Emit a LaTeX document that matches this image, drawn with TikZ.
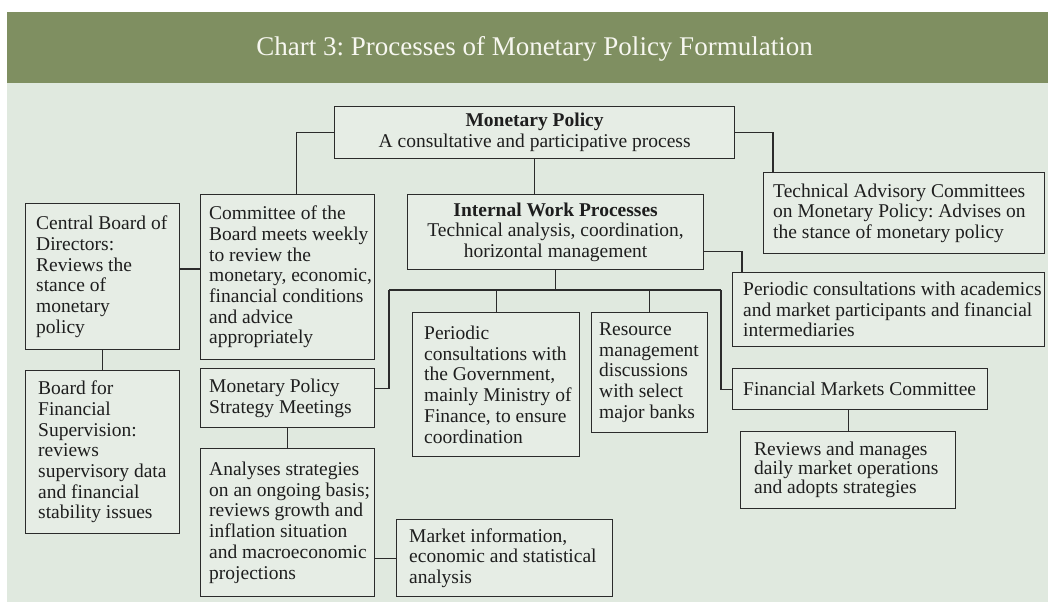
\documentclass[tikz,border=0pt]{standalone}
\usepackage{fontspec}
\setmainfont{Liberation Serif}
\frenchspacing
\definecolor{hdr}{HTML}{7F8F61}
\definecolor{bgc}{HTML}{E0E9DF}
\definecolor{boxc}{HTML}{E6EDE5}
\definecolor{linec}{HTML}{2B2B2B}
\definecolor{txtc}{HTML}{1E1E1E}
\definecolor{ttlc}{HTML}{F7F7F0}
\newcommand\bodyfont{\fontsize{19.5}{20.7}\selectfont\frenchspacing}
\newcommand\tightfont{\fontsize{19.5}{19.2}\selectfont\frenchspacing}
\tikzset{
  bx/.style={draw=linec, fill=boxc, line width=1.2pt, anchor=north west, inner sep=0pt},
  cx/.style={bx, align=center, text=txtc, font=\bodyfont},
  tx/.style={anchor=west, align=left, inner sep=0pt, text=txtc, font=\bodyfont},
  ln/.style={draw=linec, line width=1.2pt},
}
\begin{document}
\begin{tikzpicture}[x=1pt,y=-1pt]
\useasboundingbox (0,0) rectangle (1048,603);
\fill[white] (0,0) rectangle (1048,603);
\fill[hdr] (7,12) rectangle (1048,83);
\fill[bgc] (7,83) rectangle (1048,602);
\node[anchor=base, text=ttlc, font=\fontsize{27}{30}\selectfont\frenchspacing, inner sep=0pt] (title) at (534.5,55) {Chart 3: Processes of Monetary Policy Formulation};

% centred boxes
\node[cx, minimum width=400pt, minimum height=52pt] (mp) at (334,106) {\textbf{Monetary Policy}\\A consultative and participative process};
\node[cx, minimum width=296pt, minimum height=75pt] (iwp) at (407,194) {\textbf{Internal Work Processes}\\Technical analysis, coordination,\\horizontal management};

% left-aligned boxes
\node[bx, minimum width=174pt, minimum height=165pt] (cob) at (200,194) {};
\node[tx] (cobt) at ([xshift=9pt]cob.west) {Committee of the\\Board meets weekly\\to review the\\monetary, economic,\\financial conditions\\and advice\\appropriately};

\node[bx, minimum width=154pt, minimum height=146pt] (cbd) at (25,203) {};
\node[tx] (cbdt) at ([xshift=11pt]cbd.west) {Central Board of\\Directors:\\Reviews the\\stance of\\monetary\\policy};

\node[bx, minimum width=154pt, minimum height=163pt] (bfs) at (25,370) {};
\node[tx] (bfst) at ([xshift=13pt]bfs.west) {Board for\\Financial\\Supervision:\\reviews\\supervisory data\\and financial\\stability issues};

\node[bx, minimum width=281pt, minimum height=81pt] (tac) at (763,172) {};
\node[tx] (tact) at ([xshift=10pt]tac.west) {Technical Advisory Committees\\on Monetary Policy: Advises on\\the stance of monetary policy};

\node[bx, minimum width=312pt, minimum height=74pt] (pca) at (732,272) {};
\node[tx] (pcat) at ([xshift=11pt]pca.west) {Periodic consultations with academics\\and market participants and financial\\intermediaries};

\node[bx, minimum width=255pt, minimum height=41pt] (fmc) at (732,368) {};
\node[tx] (fmct) at ([xshift=11pt]fmc.west) {Financial Markets Committee};

\node[bx, minimum width=215pt, minimum height=77pt] (rev) at (740,431) {};
\node[tx, font=\tightfont] (revt) at ([xshift=14pt]rev.west) {Reviews and manages\\daily market operations\\and adopts strategies};

\node[bx, minimum width=116pt, minimum height=120pt] (rmd) at (591,312) {};
\node[tx] (rmdt) at ([xshift=8pt]rmd.west) {Resource\\management\\discussions\\with select\\major banks};

\node[bx, minimum width=167pt, minimum height=144pt] (pcg) at (412,312) {};
\node[tx] (pcgt) at ([xshift=12pt]pcg.west) {Periodic\\consultations with\\the Government,\\mainly Ministry of\\Finance, to ensure\\coordination};

\node[bx, minimum width=174pt, minimum height=59pt] (mpsm) at (200,368) {};
\node[tx] (mpsmt) at ([xshift=9pt]mpsm.west) {Monetary Policy\\Strategy Meetings};

\node[bx, minimum width=174pt, minimum height=148pt] (ana) at (200,448) {};
\node[tx] (anat) at ([xshift=9pt]ana.west) {Analyses strategies\\on an ongoing basis;\\reviews growth and\\inflation situation\\and macroeconomic\\projections};

\node[bx, minimum width=216pt, minimum height=77pt] (mkt) at (396,519) {};
\node[tx] (mktt) at ([xshift=13pt]mkt.west) {Market information,\\economic and statistical\\analysis};

% junction coordinates
\coordinate (j1) at (0,269);
\coordinate (bl) at (389,290);
\coordinate (br) at (721,290);

% connectors
\draw[ln] (mp.west) -| ([xshift=9pt]cob.north);
\draw[ln] (mp.east) -| ([xshift=10pt]tac.north west);
\draw[ln] (mp.south) -- (mp.south |- iwp.north);
\draw[ln] (cbd.east |- j1) -- (cob.west |- j1);
\draw[ln] (cbd.south) -- (bfs.north);
\draw[ln] ([yshift=-19.5pt]iwp.east) -| ([xshift=10pt]pca.north west);
\draw[ln] (iwp.south) -- (iwp.south |- bl);
\draw[ln] (bl) -- (br);
\draw[ln] (bl) |- ([yshift=10pt]mpsm.east);
\draw[ln] (br) |- (fmc.west);
\draw[ln] (pcg.north |- bl) -- (pcg.north);
\draw[ln] (rmd.north |- bl) -- (rmd.north);
\draw[ln] (rev.north |- fmc.south) -- (rev.north);
\draw[ln] (mpsm.south) -- (ana.north);
\draw[ln] (mkt.west -| ana.east) -- (mkt.west);
\end{tikzpicture}
\end{document}
